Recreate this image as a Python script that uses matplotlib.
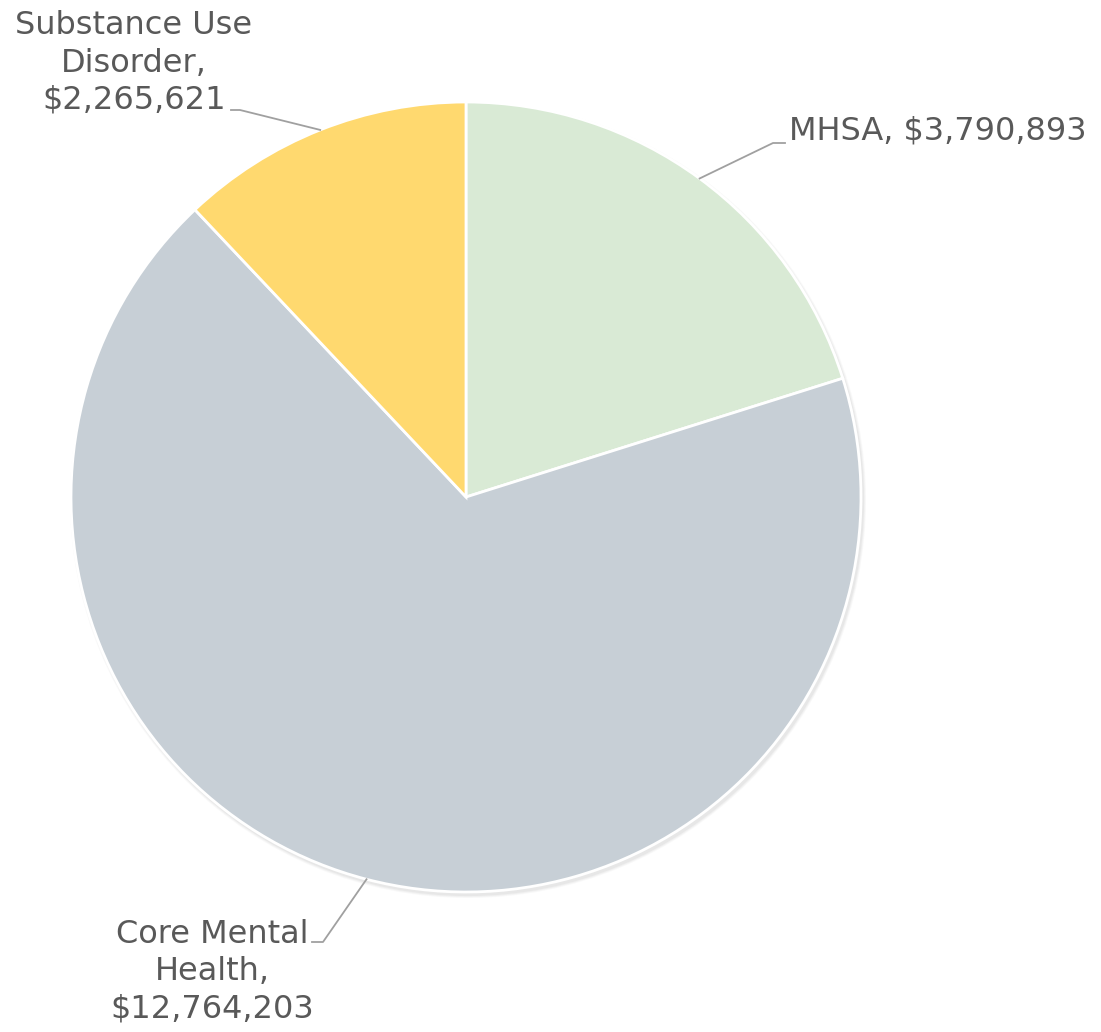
import numpy as np
import matplotlib.pyplot as plt
from matplotlib.patches import Circle

labels = ['MHSA', 'Core Mental\nHealth', 'Substance Use\nDisorder']
values = [3790893, 12764203, 2265621]
colors = ['#D9EAD5', '#C7CFD6', '#FFD96F']

# label placement (text anchor, elbow point, line end near text) in pixel coords
text_pos = [(789, 131, 'left'), (212, 972, 'center'), (134, 63, 'center')]
elbows = [((773, 143), (785, 143)), ((323, 942), (312, 942)), ((240, 110), (231, 110))]

fig = plt.figure(figsize=(11.01, 10.32), dpi=100)
ax = fig.add_axes([0, 0, 1, 1])
ax.set_xlim(0, 1101)
ax.set_ylim(1032, 0)
ax.set_aspect('equal')
ax.axis('off')

cx, cy, r = 466, 497, 395

# soft shadow under the pie
for k, a in enumerate([0.05, 0.06, 0.08]):
    ax.add_patch(Circle((cx + 2, cy + 3), r + 3 - k, color='#808080', alpha=a, lw=0, zorder=0))

# y axis is inverted, so counterclock=True draws clockwise on screen
wedges, _ = ax.pie(values, colors=colors, startangle=-90, counterclock=True,
                   center=(cx, cy), radius=r, frame=True,
                   wedgeprops=dict(edgecolor='white', linewidth=2))
ax.set_xlim(0, 1101)
ax.set_ylim(1032, 0)
ax.axis('off')

for w, lab, v, (tx, ty, ha), (e1, e2) in zip(wedges, labels, values, text_pos, elbows):
    mid = np.deg2rad((w.theta1 + w.theta2) / 2)
    px, py = cx + r * np.cos(mid), cy + r * np.sin(mid)
    ax.plot([px, e1[0], e2[0]], [py, e1[1], e2[1]], color='#A0A0A0', lw=1.3, zorder=3)
    ax.text(tx, ty, f'{lab},\n${v:,}' if '\n' in lab else f'{lab}, ${v:,}',
            ha=ha, va='center', multialignment='center', fontsize=23,
            color='#595959', linespacing=1.27, family='DejaVu Sans')

fig.savefig('out.png', dpi=100)
